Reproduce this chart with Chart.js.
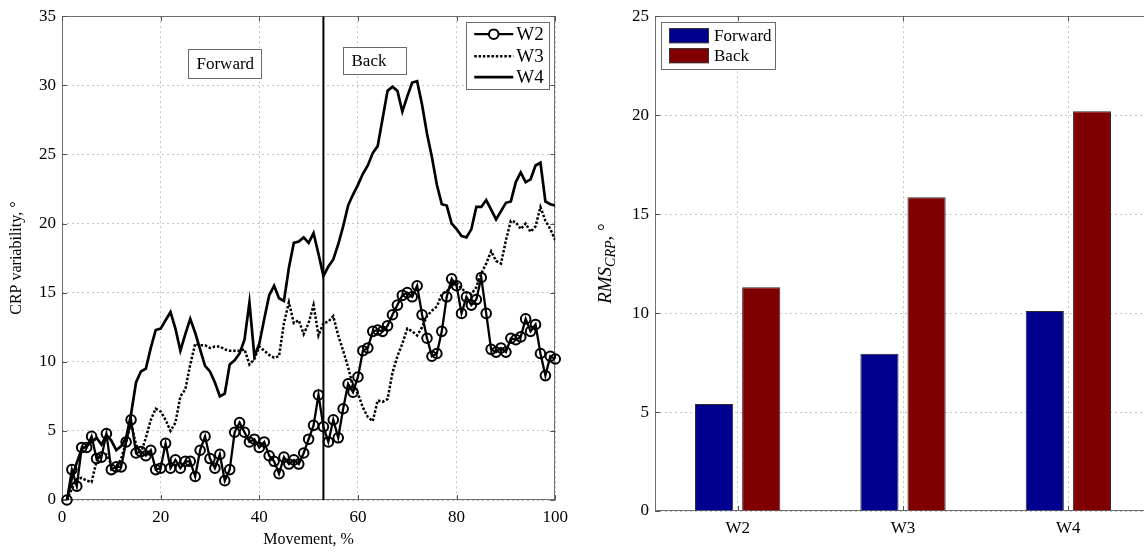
<!DOCTYPE html>
<html>
<head>
<meta charset="utf-8">
<script src="https://cdn.jsdelivr.net/npm/chart.js@4.4.1/dist/chart.umd.min.js"></script>
<style>
html,body{margin:0;padding:0;background:#fff;overflow:hidden;width:1144px;height:553px;position:relative;}
#c1{position:absolute;left:0;top:0;}
#c2{position:absolute;left:580px;top:0;}
</style>
</head>
<body>
<canvas id="c1" width="575" height="553"></canvas>
<canvas id="c2" width="600" height="553"></canvas>
<script>
// ---------- data ----------
const movement = [1,2,3,4,5,6,7,8,9,10,11,12,13,14,15,16,17,18,19,20,
  21,22,23,24,25,26,27,28,29,30,31,32,33,34,35,36,37,38,39,40,
  41,42,43,44,45,46,47,48,49,50,51,52,53,54,55,56,57,58,59,60,
  61,62,63,64,65,66,67,68,69,70,71,72,73,74,75,76,77,78,79,80,
  81,82,83,84,85,86,87,88,89,90,91,92,93,94,95,96,97,98,99,100];

const w2 = [0, 2.2, 1.0, 3.8, 3.8, 4.6, 3.0, 3.1, 4.8, 2.2,
  2.4, 2.4, 4.2, 5.8, 3.4, 3.5, 3.2, 3.6, 2.2, 2.3,
  4.1, 2.3, 2.9, 2.3, 2.8, 2.8, 1.7, 3.6, 4.6, 3.0,
  2.3, 3.3, 1.4, 2.2, 4.9, 5.6, 4.9, 4.2, 4.4, 3.8,
  4.2, 3.2, 2.8, 1.9, 3.1, 2.6, 2.9, 2.6, 3.4, 4.4,
  5.4, 7.6, 5.3, 4.2, 5.8, 4.5, 6.6, 8.4, 7.8, 8.9,
  10.8, 11.0, 12.2, 12.3, 12.2, 12.6, 13.4, 14.1, 14.8, 15.0,
  14.7, 15.5, 13.4, 11.7, 10.4, 10.6, 12.2, 14.7, 16.0, 15.5,
  13.5, 14.7, 14.1, 14.5, 16.1, 13.5, 10.9, 10.7, 11.0, 10.7,
  11.7, 11.6, 11.8, 13.1, 12.2, 12.7, 10.6, 9.0, 10.4, 10.2];

const w3 = [0, 0.8, 1.5, 1.6, 1.4, 1.3, 2.8, 3.4, 3.3, 2.6,
  2.3, 3.0, 4.2, 5.6, 4.0, 3.4, 4.5, 5.8, 6.6, 6.4,
  5.8, 5.0, 5.6, 7.5, 8.0, 9.8, 11.3, 11.2, 11.2, 11.0,
  11.1, 11.1, 10.9, 10.8, 10.8, 10.8, 10.9, 9.8, 10.2, 11.1,
  10.8, 10.5, 10.3, 10.4, 12.8, 14.3, 12.8, 13.0, 12.0, 12.8,
  14.1, 11.9, 12.8, 12.9, 13.3, 11.9, 10.8, 9.6, 8.2, 7.7,
  6.7, 6.0, 5.7, 7.2, 7.1, 7.3, 9.2, 10.4, 11.3, 12.4,
  12.2, 11.9, 12.5, 13.3, 13.7, 14.0, 14.9, 15.1, 15.5, 15.7,
  15.3, 15.0, 14.9, 15.4, 16.4, 17.1, 18.0, 17.3, 17.1, 18.8,
  20.2, 20.1, 19.6, 20.0, 19.4, 19.8, 21.2, 20.2, 19.6, 18.8];

const w4 = [0, 1.6, 2.7, 3.7, 3.9, 4.2, 4.5, 4.0, 4.7, 4.3,
  3.6, 3.9, 4.5, 6.2, 8.5, 9.3, 9.5, 11.0, 12.3, 12.4,
  13.0, 13.6, 12.4, 10.8, 12.0, 13.1, 12.1, 10.9, 9.7, 9.3,
  8.5, 7.5, 7.7, 9.8, 10.1, 10.6, 11.6, 14.3, 10.4, 11.3,
  13.1, 14.8, 15.5, 14.6, 14.4, 16.8, 18.6, 18.7, 19.0, 18.6,
  19.3, 17.8, 16.2, 16.9, 17.4, 18.5, 19.8, 21.3, 22.1, 22.8,
  23.6, 24.2, 25.1, 25.6, 27.6, 29.6, 29.9, 29.6, 28.1, 29.2,
  30.2, 30.3, 28.6, 26.5, 24.8, 22.8, 21.4, 21.3, 20.0, 19.6,
  19.1, 19.0, 19.6, 21.2, 21.2, 21.7, 21.0, 20.3, 20.9, 21.5,
  21.6, 23.0, 23.7, 23.0, 23.2, 24.2, 24.4, 21.6, 21.4, 21.3];

const splitAt = 53;           // Forward / Back boundary, % of movement
const lineLabels = ['W2', 'W3', 'W4'];
const xTicksLeft = [0, 20, 40, 60, 80, 100];
const yTicksLeft = [0, 5, 10, 15, 20, 25, 30, 35];

const groups = ['W2', 'W3', 'W4'];
const forward = [5.4, 7.95, 10.1];
const back = [11.3, 15.85, 20.2];
const yTicksRight = [0, 5, 10, 15, 20, 25];

// ---------- styling ----------
const SERIF = "'Liberation Serif', 'Times New Roman', Times, serif";
Chart.defaults.font.family = SERIF;
Chart.defaults.color = '#000';
const GRID = '#c4c4c4';
const FRAME = '#707070';

function toPts(ys) { return movement.map((x, i) => ({ x: x, y: ys[i] })); }

// frame + inward tick marks (MATLAB style)
const framePlugin = {
  id: 'frame',
  beforeDatasetsDraw(chart) {
    const { ctx, chartArea: a, scales } = chart;
    ctx.save();
    ctx.strokeStyle = FRAME;
    ctx.lineWidth = 1;
    ctx.strokeRect(Math.round(a.left) + 0.5, Math.round(a.top) + 0.5,
                   Math.round(a.right - a.left) - 1, Math.round(a.bottom - a.top) - 1);
    ctx.strokeStyle = '#555';
    ctx.beginPath();
    const L = 5;
    scales.x.ticks.forEach((t, i) => {
      const px = Math.round(scales.x.getPixelForTick(i)) + 0.5;
      ctx.moveTo(px, a.bottom); ctx.lineTo(px, a.bottom - L);
      ctx.moveTo(px, a.top); ctx.lineTo(px, a.top + L);
    });
    scales.y.ticks.forEach((t, i) => {
      const py = Math.round(scales.y.getPixelForTick(i)) + 0.5;
      ctx.moveTo(a.left, py); ctx.lineTo(a.left + L, py);
      ctx.moveTo(a.right, py); ctx.lineTo(a.right - L, py);
    });
    ctx.stroke();
    ctx.restore();
  }
};

// left chart: text boxes and legend
const leftDecor = {
  id: 'leftDecor',
  afterDatasetsDraw(chart) {
    const { ctx, chartArea: a, scales: { x, y } } = chart;
    ctx.save();
    // annotation boxes
    const boxes = [
      { text: 'Forward', x0: 25.5, x1: 40.4, y0: 30.5, y1: 32.6 },
      { text: 'Back', x0: 57.0, x1: 69.8, y0: 30.8, y1: 32.8 }
    ];
    ctx.font = '17px ' + SERIF;
    boxes.forEach(b => {
      const l = Math.round(x.getPixelForValue(b.x0)) + 0.5, r = Math.round(x.getPixelForValue(b.x1)) + 0.5;
      const t = Math.round(y.getPixelForValue(b.y1)) + 0.5, bt = Math.round(y.getPixelForValue(b.y0)) + 0.5;
      ctx.fillStyle = '#fff';
      ctx.fillRect(l, t, r - l, bt - t);
      ctx.strokeStyle = '#6a6a6a';
      ctx.lineWidth = 1;
      ctx.strokeRect(l, t, r - l, bt - t);
      ctx.fillStyle = '#000';
      ctx.textAlign = 'left';
      ctx.textBaseline = 'middle';
      ctx.fillText(b.text, l + 8, (t + bt) / 2 + 1);
    });
    // legend
    const bl = Math.round(a.right - 89) + 0.5, br = Math.round(a.right - 6) + 0.5;
    const bt = Math.round(a.top + 6) + 0.5, bb = Math.round(a.top + 73) + 0.5;
    ctx.fillStyle = '#fff';
    ctx.fillRect(bl, bt, br - bl, bb - bt);
    ctx.strokeStyle = '#6a6a6a';
    ctx.lineWidth = 1;
    ctx.strokeRect(bl, bt, br - bl, bb - bt);
    const rows = [a.top + 18, a.top + 40, a.top + 61];
    const lx0 = a.right - 81, lx1 = a.right - 42;
    ctx.strokeStyle = '#000';
    rows.forEach((ry, i) => {
      const ds = chart.data.datasets[i];
      ctx.save();
      ctx.lineWidth = ds.borderWidth;
      ctx.setLineDash(ds.borderDash || []);
      ctx.beginPath();
      ctx.moveTo(lx0, ry); ctx.lineTo(lx1, ry);
      ctx.stroke();
      ctx.restore();
      if (ds.pointRadius > 0) {
        ctx.save();
        ctx.lineWidth = ds.pointBorderWidth;
        ctx.fillStyle = '#fff';
        ctx.beginPath();
        ctx.arc((lx0 + lx1) / 2, ry, ds.pointRadius, 0, Math.PI * 2);
        ctx.fill();
        ctx.stroke();
        ctx.restore();
      }
      ctx.fillStyle = '#000';
      ctx.font = '19px ' + SERIF;
      ctx.textAlign = 'left';
      ctx.textBaseline = 'middle';
      ctx.fillText(ds.label, a.right - 39, ry + 1);
    });
    ctx.restore();
  }
};

new Chart(document.getElementById('c1'), {
  type: 'line',
  data: {
    datasets: [
      { label: lineLabels[0], data: toPts(w2), borderColor: '#000', borderWidth: 2.3,
        pointRadius: 4.8, pointBorderWidth: 2, pointBorderColor: '#000',
        pointBackgroundColor: 'rgba(255,255,255,0)', tension: 0, clip: false },
      { label: lineLabels[1], data: toPts(w3), borderColor: '#000', borderWidth: 2.5,
        borderDash: [2.5, 1.8], pointRadius: 0, tension: 0 },
      { label: lineLabels[2], data: toPts(w4), borderColor: '#000', borderWidth: 2.7,
        pointRadius: 0, tension: 0 },
      { label: 'split', data: [{ x: splitAt, y: 0 }, { x: splitAt, y: 35 }],
        borderColor: '#000', borderWidth: 2, pointRadius: 0 }
    ]
  },
  options: {
    responsive: false,
    animation: false,
    events: [],
    layout: { padding: { left: 0, top: 15, right: 16, bottom: 0 } },
    plugins: { legend: { display: false }, tooltip: { enabled: false } },
    scales: {
      x: {
        type: 'linear', min: 0, max: 100,
        afterBuildTicks: s => { s.ticks = xTicksLeft.map(v => ({ value: v })); },
        afterFit: s => { s.height = 53; },
        grid: { color: GRID, lineWidth: 1, drawTicks: false },
        border: { display: false, dash: [2, 3] },
        ticks: { padding: 7, font: { size: 17 }, color: '#000', maxRotation: 0, autoSkip: false },
        title: { display: true, text: 'Movement, %', font: { size: 16 }, color: '#000',
                 padding: { top: 0, bottom: 4 } }
      },
      y: {
        type: 'linear', min: 0, max: 35,
        afterBuildTicks: s => { s.ticks = yTicksLeft.map(v => ({ value: v })); },
        afterFit: s => { s.width = 62; },
        grid: { color: GRID, lineWidth: 1, drawTicks: false },
        border: { display: false, dash: [2, 3] },
        ticks: { padding: 6, font: { size: 17 }, color: '#000' },
        title: { display: true, text: 'CRP variability, °', font: { size: 16 }, color: '#000',
                 padding: { top: 7, bottom: 0 } }
      }
    }
  },
  plugins: [framePlugin, leftDecor]
});

// right chart: legend + italic subscript y title
const rightDecor = {
  id: 'rightDecor',
  afterDatasetsDraw(chart) {
    const { ctx, chartArea: a } = chart;
    ctx.save();
    const bl = Math.round(a.left + 6) + 0.5, br = Math.round(a.left + 120) + 0.5;
    const bt = Math.round(a.top + 6) + 0.5, bb = Math.round(a.top + 53) + 0.5;
    ctx.fillStyle = '#fff';
    ctx.fillRect(bl, bt, br - bl, bb - bt);
    ctx.strokeStyle = '#6a6a6a';
    ctx.lineWidth = 1;
    ctx.strokeRect(bl, bt, br - bl, bb - bt);
    const rows = [a.top + 12, a.top + 32];
    chart.data.datasets.forEach((ds, i) => {
      const sy = rows[i];
      ctx.fillStyle = ds.backgroundColor;
      ctx.fillRect(a.left + 14, sy, 40, 15);
      ctx.strokeStyle = '#333';
      ctx.strokeRect(a.left + 14.5, sy + 0.5, 39, 14);
      ctx.fillStyle = '#000';
      ctx.font = '17px ' + SERIF;
      ctx.textAlign = 'left';
      ctx.textBaseline = 'middle';
      ctx.fillText(ds.label, a.left + 59, sy + 8.5);
    });
    ctx.restore();
  },
  afterDraw(chart) {
    const { ctx, chartArea: a } = chart;
    ctx.save();
    const cy = (a.top + a.bottom) / 2;
    const baseX = 31;
    ctx.translate(baseX, cy);
    ctx.rotate(-Math.PI / 2);
    ctx.fillStyle = '#000';
    ctx.textBaseline = 'alphabetic';
    ctx.textAlign = 'left';
    const f1 = 'italic 19px ' + SERIF, f2 = 'italic 14px ' + SERIF, f3 = '19px ' + SERIF;
    ctx.font = f1; const w1 = ctx.measureText('RMS').width;
    ctx.font = f2; const w2s = ctx.measureText('CRP').width;
    ctx.font = f3; const w3s = ctx.measureText(', °').width;
    let x0 = -(w1 + w2s + w3s) / 2;
    ctx.font = f1; ctx.fillText('RMS', x0, 0); x0 += w1;
    ctx.font = f2; ctx.fillText('CRP', x0, 4); x0 += w2s;
    ctx.font = f3; ctx.fillText(', °', x0, 0);
    ctx.restore();
  }
};

new Chart(document.getElementById('c2'), {
  type: 'bar',
  data: {
    labels: groups,
    datasets: [
      { label: 'Forward', data: forward, backgroundColor: '#00008f', borderColor: '#2a2a2a',
        borderWidth: 1, categoryPercentage: 0.57, barPercentage: 0.81 },
      { label: 'Back', data: back, backgroundColor: '#800000', borderColor: '#2a2a2a',
        borderWidth: 1, categoryPercentage: 0.57, barPercentage: 0.81 }
    ]
  },
  options: {
    responsive: false,
    animation: false,
    events: [],
    layout: { padding: { left: 0, top: 15, right: 29, bottom: 0 } },
    plugins: { legend: { display: false }, tooltip: { enabled: false } },
    scales: {
      x: {
        afterFit: s => { s.height = 42; },
        grid: { color: GRID, lineWidth: 1, drawTicks: false, offset: false },
        border: { display: false, dash: [2, 3] },
        ticks: { padding: 7, font: { size: 17 }, color: '#000' }
      },
      y: {
        min: 0, max: 25,
        afterBuildTicks: s => { s.ticks = yTicksRight.map(v => ({ value: v })); },
        afterFit: s => { s.width = 75; },
        grid: { color: GRID, lineWidth: 1, drawTicks: false },
        border: { display: false, dash: [2, 3] },
        ticks: { padding: 6, font: { size: 17 }, color: '#000' }
      }
    }
  },
  plugins: [framePlugin, rightDecor]
});
</script>
</body>
</html>
